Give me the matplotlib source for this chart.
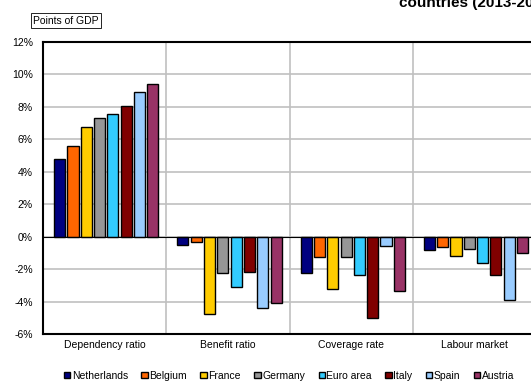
import matplotlib
matplotlib.use("Agg")
import matplotlib.pyplot as plt
import numpy as np

plt.rcParams['font.family'] = ['Liberation Sans', 'DejaVu Sans']

groups = ['Dependency ratio', 'Benefit ratio', 'Coverage rate', 'Labour market']
countries = ['Netherlands', 'Belgium', 'France', 'Germany', 'Euro area', 'Italy', 'Spain', 'Austria']
colors = ['#000080', '#ff6600', '#ffcc00', '#969696', '#33ccff', '#800000', '#99ccff', '#993366']

# percent of GDP, by country, across the four groups
netherlands = [4.78, -0.51, -2.24, -0.84]
belgium = [5.60, -0.30, -1.27, -0.64]
france = [6.79, -4.75, -3.20, -1.21]
germany = [7.34, -2.24, -1.27, -0.74]
euro_area = [7.59, -3.12, -2.38, -1.64]
italy = [8.08, -2.16, -5.00, -2.34]
spain = [8.92, -4.41, -0.60, -3.88]
austria = [9.42, -4.08, -3.32, -1.00]
series = [netherlands, belgium, france, germany, euro_area, italy, spain, austria]

yticks = [-6, -4, -2, 0, 2, 4, 6, 8, 10, 12]

fig = plt.figure(figsize=(5.31, 3.81), dpi=100)
ax = fig.add_axes([0.081, 0.1234, 0.9284, 0.7664])

x = np.arange(len(groups))
pitch = 0.108
width = 0.09
start = 0.09 + width / 2
for i, (name, vals, c) in enumerate(zip(countries, series, colors)):
    ax.bar(x + start + i * pitch, vals, width=width, color=c, edgecolor='black',
           linewidth=1.0, label=name, zorder=3)

ax.set_xlim(0, 4)
ax.set_ylim(-6, 12)
ax.set_yticks(yticks)
ax.set_yticklabels([f'{t}%' for t in yticks], fontsize=7.5)
ax.set_xticks(x + 0.5)
ax.set_xticklabels(groups, fontsize=7.5)
ax.tick_params(axis='y', length=0, pad=7.3)
ax.tick_params(axis='x', length=0, pad=4)

ax.grid(axis='y', color='#c0c0c0', linewidth=1.2, zorder=0)
for v in [1, 2, 3]:
    ax.axvline(v, color='#c0c0c0', linewidth=1.2, zorder=0)
ax.axhline(0, color='black', linewidth=0.8, zorder=4)
for s in ax.spines.values():
    s.set_linewidth(1.5)
    s.set_zorder(5)

fig.text(0.062, 0.946, 'Points of GDP', fontsize=7.5, ha='left', va='center',
         bbox=dict(boxstyle='square,pad=0.2', facecolor='white', edgecolor='black', linewidth=0.6))

fig.text(0.751, 1 - 7 / 381, 'countries (2013-2060)', fontsize=11, fontweight='bold',
         ha='left', va='baseline')

fig.legend(loc='center', bbox_to_anchor=(0.544, 0.014), ncol=8, fontsize=7.5,
           frameon=False, handlelength=0.6, handleheight=0.6, handletextpad=0.15,
           columnspacing=1.3, borderaxespad=0, borderpad=0)

fig.savefig('out.png', dpi=100)
